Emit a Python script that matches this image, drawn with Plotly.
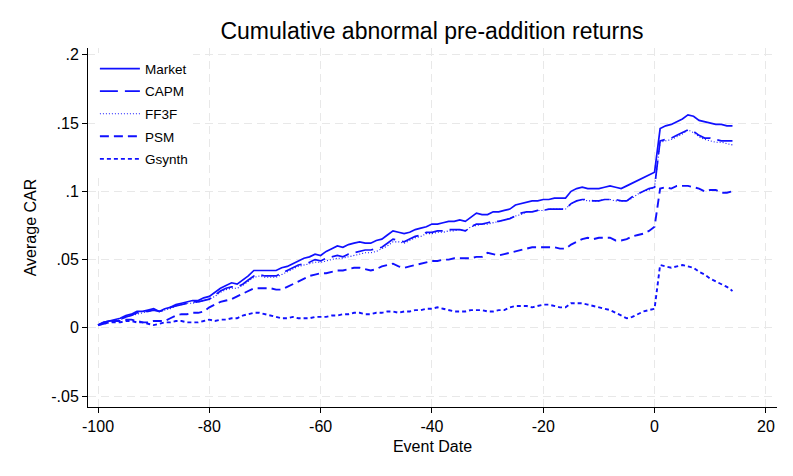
import plotly.graph_objects as go

days = list(range(-100, 15))

market = [
    .002, .004, .005, .006, .007, .009, .010, .012, .012, .013,
    .014, .012, .014, .015, .017, .018, .019, .020, .020, .022,
    .023, .026, .029, .031, .033, .032, .035, .038, .042, .042,
    .042, .042, .042, .044, .045, .047, .049, .051, .052, .054,
    .053, .056, .058, .060, .059, .061, .062, .063, .062, .062,
    .064, .065, .068, .071, .070, .069, .070, .072, .073, .074,
    .076, .076, .077, .078, .078, .079, .078, .081, .084, .083,
    .083, .085, .085, .086, .087, .090, .091, .092, .093, .093,
    .094, .094, .095, .095, .095, .100, .102, .103, .102, .102,
    .102, .103, .104, .103, .102, .104, .106, .108, .110, .112,
    .114, .146, .148, .149, .151, .153, .156, .155, .152, .151,
    .150, .149, .149, .148, .148,
]

capm = [
    .002, .004, .005, .005, .006, .008, .009, .011, .012, .012,
    .013, .012, .013, .015, .016, .017, .018, .019, .019, .020,
    .021, .024, .027, .029, .030, .030, .032, .035, .038, .039,
    .038, .038, .038, .040, .042, .044, .046, .047, .048, .050,
    .049, .051, .052, .053, .052, .054, .055, .056, .057, .057,
    .058, .059, .062, .065, .064, .063, .065, .067, .068, .070,
    .070, .071, .071, .072, .072, .072, .071, .074, .076, .076,
    .077, .078, .078, .079, .080, .082, .084, .085, .085, .086,
    .086, .087, .087, .087, .087, .091, .093, .094, .094, .093,
    .093, .094, .094, .094, .093, .093, .096, .098, .100, .102,
    .103, .137, .138, .139, .141, .143, .145, .144, .141, .139,
    .139, .138, .137, .137, .137,
]

ff3f = [
    .002, .003, .005, .005, .006, .008, .009, .010, .011, .012,
    .013, .012, .013, .014, .016, .017, .018, .018, .019, .020,
    .021, .023, .026, .028, .029, .029, .031, .034, .037, .038,
    .037, .037, .037, .039, .041, .043, .045, .046, .047, .048,
    .048, .049, .050, .051, .051, .052, .053, .054, .055, .055,
    .056, .058, .060, .063, .063, .062, .064, .066, .067, .069,
    .069, .070, .070, .071, .071, .072, .071, .074, .075, .076,
    .076, .077, .078, .079, .080, .082, .083, .085, .085, .086,
    .086, .087, .087, .087, .087, .091, .093, .094, .093, .093,
    .093, .094, .094, .093, .093, .093, .095, .098, .100, .101,
    .103, .136, .137, .138, .140, .142, .145, .143, .140, .138,
    .137, .136, .136, .135, .134,
]

psm = [
    .002, .003, .004, .005, .005, .006, .006, .005, .004, .004,
    .005, .005, .005, .007, .009, .010, .010, .011, .011, .012,
    .015, .017, .019, .020, .021, .023, .025, .027, .029, .029,
    .029, .029, .028, .028, .030, .032, .034, .036, .038, .039,
    .040, .040, .041, .042, .042, .043, .044, .044, .043, .042,
    .043, .045, .046, .047, .045, .044, .045, .046, .047, .048,
    .049, .049, .050, .050, .051, .051, .051, .051, .052, .052,
    .055, .054, .053, .054, .055, .056, .057, .058, .059, .059,
    .059, .059, .059, .058, .058, .061, .063, .065, .066, .065,
    .066, .066, .066, .064, .064, .065, .067, .068, .069, .071,
    .074, .102, .103, .102, .104, .104, .104, .103, .102, .100,
    .101, .101, .099, .099, .100,
]

gsynth = [
    .002, .003, .004, .004, .004, .005, .005, .004, .004, .003,
    .002, .003, .004, .004, .005, .005, .004, .004, .004, .005,
    .006, .005, .006, .006, .007, .007, .009, .010, .011, .011,
    .010, .009, .008, .007, .007, .008, .007, .007, .007, .008,
    .008, .008, .009, .009, .010, .010, .011, .011, .010, .010,
    .011, .011, .012, .012, .011, .012, .012, .013, .013, .014,
    .014, .015, .014, .013, .012, .012, .012, .013, .013, .013,
    .012, .012, .013, .013, .015, .016, .016, .016, .015, .016,
    .017, .017, .016, .015, .015, .018, .018, .018, .017, .016,
    .015, .014, .013, .011, .009, .007, .008, .010, .012, .013,
    .014, .046, .045, .044, .045, .046, .045, .044, .041, .039,
    .036, .034, .032, .030, .027,
]

series_names = ["Market", "CAPM", "FF3F", "PSM", "Gsynth"]
series_values = [market, capm, ff3f, psm, gsynth]
series_dash = ["solid", "18px,7px", "1px,2px", "9px,5px", "4px,3px"]
series_width = [1.7, 1.7, 1.1, 1.9, 1.9]

x_ticks = [-100, -80, -60, -40, -20, 0, 20]
x_tick_labels = ["-100", "-80", "-60", "-40", "-20", "0", "20"]
y_ticks = [-0.05, 0, 0.05, 0.1, 0.15, 0.2]
y_tick_labels = ["-.05", "0", ".05", ".1", ".15", ".2"]

for v in series_values:
    assert len(v) == len(days)

color = "#1010ff"
font_family = "Liberation Sans, Arial, Helvetica, sans-serif"

fig = go.Figure()
for i, (name, vals, dash, w) in enumerate(zip(series_names, series_values, series_dash, series_width)):
    fig.add_trace(go.Scatter(
        x=days, y=vals, mode="lines", name=name,
        legendgroup=f"g{i}",
        line=dict(color=color, width=w, dash=dash),
    ))

axis_common = dict(
    showline=True, linecolor="black", linewidth=1,
    ticks="outside", ticklen=5, tickcolor="black", tickwidth=1,
    showgrid=True, gridcolor="#e8e8e8", gridwidth=1.3, griddash="8px,5px",
    zeroline=False, mirror=False, automargin=False,
    tickfont=dict(size=16, color="black", family=font_family),
)

fig.update_layout(
    width=793, height=476,
    paper_bgcolor="white", plot_bgcolor="white",
    margin=dict(l=88, r=16, t=48, b=69, autoexpand=False),
    font=dict(family=font_family, color="black"),
    title=dict(
        text="Cumulative abnormal pre-addition returns",
        x=432 / 793, xanchor="center",
        y=1 - 31 / 476, yanchor="middle",
        font=dict(size=23, color="black", family=font_family),
    ),
    xaxis=dict(
        range=[-101.8, 22], tickvals=x_ticks, ticktext=x_tick_labels,
        title=dict(text="Event Date", font=dict(size=16), standoff=6),
        **axis_common,
    ),
    yaxis=dict(
        range=[-0.058, 0.205], tickvals=y_ticks, ticktext=y_tick_labels,
        title=dict(text="Average CAR", font=dict(size=16), standoff=10),
        **axis_common,
    ),
    legend=dict(
        x=0.01, y=0.985, xanchor="left", yanchor="top",
        bgcolor="white", borderwidth=0,
        font=dict(size=13.5, color="black", family=font_family),
        tracegroupgap=2, traceorder="grouped", itemwidth=40,
    ),
    showlegend=True,
)

fig.write_html(
    "out.html",
    config={"displayModeBar": False},
    post_script="document.body.style.margin='0px';document.body.style.overflow='hidden';",
)
